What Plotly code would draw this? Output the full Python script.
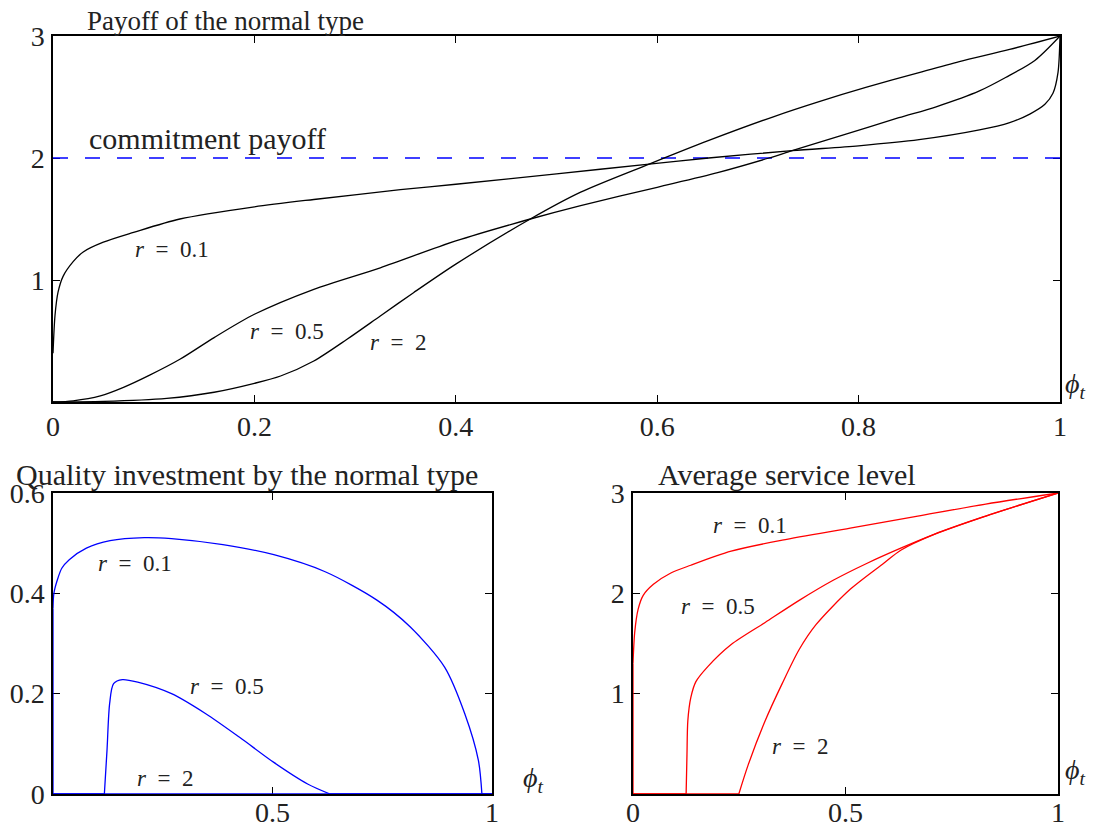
import plotly.graph_objects as go

# ---------------- data ----------------
# Top panel: payoff of the normal type
pay_x_01 = [0, 0.002, 0.005, 0.01, 0.02, 0.03, 0.05, 0.08, 0.126, 0.2, 0.259, 0.345, 0.4, 0.5, 0.592, 0.651, 0.734, 0.8, 0.86, 0.92, 0.95, 0.97, 0.985, 0.993, 0.998, 1.0]
pay_y_01 = [0.4, 0.71, 0.9, 1.03, 1.15, 1.23, 1.31, 1.39, 1.50, 1.60, 1.66, 1.74, 1.785, 1.87, 1.95, 2.0, 2.06, 2.10, 2.15, 2.23, 2.29, 2.36, 2.44, 2.53, 2.7, 3.0]
pay_x_05 = [0, 0.02, 0.047, 0.07, 0.096, 0.126, 0.16, 0.2, 0.259, 0.325, 0.4, 0.474, 0.524, 0.6, 0.66, 0.711, 0.734, 0.785, 0.84, 0.877, 0.92, 0.946, 0.975, 1.0]
pay_y_05 = [0, 0.01, 0.05, 0.12, 0.22, 0.35, 0.528, 0.719, 0.924, 1.10, 1.32, 1.50, 1.61, 1.76, 1.88, 2.0, 2.06, 2.19, 2.33, 2.42, 2.55, 2.66, 2.80, 3.0]
pay_x_2 = [0, 0.05, 0.113, 0.16, 0.2, 0.226, 0.259, 0.292, 0.325, 0.358, 0.4, 0.474, 0.524, 0.592, 0.65, 0.716, 0.76, 0.808, 0.86, 0.9, 0.95, 1.0]
pay_y_2 = [0, 0.005, 0.03, 0.08, 0.153, 0.213, 0.336, 0.514, 0.705, 0.896, 1.13, 1.50, 1.72, 1.95, 2.14, 2.34, 2.46, 2.58, 2.70, 2.79, 2.89, 3.0]
commit_x = [0, 1]
commit_y = [2, 2]

# Bottom-left: quality investment by the normal type
inv_x_01 = [0, 0, 0.002, 0.01, 0.02, 0.037, 0.076, 0.13, 0.208, 0.27, 0.387, 0.503, 0.62, 0.737, 0.814, 0.892, 0.938, 0.969, 0.977, 1.0]
inv_y_01 = [0, 0.37, 0.40, 0.427, 0.45, 0.467, 0.49, 0.505, 0.511, 0.509, 0.497, 0.477, 0.443, 0.387, 0.333, 0.253, 0.16, 0.067, 0, 0]
inv_x_05 = [0, 0.117, 0.123, 0.129, 0.138, 0.158, 0.193, 0.27, 0.348, 0.425, 0.503, 0.58, 0.631, 1.0]
inv_y_05 = [0, 0, 0.087, 0.18, 0.22, 0.228, 0.223, 0.2, 0.16, 0.113, 0.063, 0.02, 0, 0]
inv_x_2 = [0, 1]
inv_y_2 = [0, 0]

# Bottom-right: average service level
srv_x_01 = [0, 0, 0.004, 0.012, 0.024, 0.048, 0.088, 0.136, 0.231, 0.351, 0.511, 0.67, 0.83, 1.0]
srv_y_01 = [0, 1.3, 1.61, 1.84, 1.98, 2.09, 2.2, 2.28, 2.42, 2.53, 2.65, 2.77, 2.89, 3.0]
srv_x_05 = [0, 0.125, 0.127, 0.129, 0.136, 0.148, 0.176, 0.231, 0.311, 0.391, 0.471, 0.551, 0.63, 0.71, 0.83, 1.0]
srv_y_05 = [0, 0, 0.39, 0.73, 0.96, 1.12, 1.27, 1.49, 1.71, 1.93, 2.13, 2.30, 2.45, 2.59, 2.77, 3.0]
srv_x_2 = [0, 0.249, 0.271, 0.311, 0.351, 0.391, 0.431, 0.511, 0.59, 0.63, 0.71, 0.83, 1.0]
srv_y_2 = [0, 0, 0.29, 0.73, 1.1, 1.44, 1.69, 2.04, 2.3, 2.43, 2.59, 2.77, 3.0]

top_xticks = [0, 0.2, 0.4, 0.6, 0.8, 1]
top_xticklabels = ["0", "0.2", "0.4", "0.6", "0.8", "1"]
top_yticks = [1, 2, 3]
top_yticklabels = ["1", "2", "3"]
bl_xticks = [0.5, 1]
bl_xticklabels = ["0.5", "1"]
bl_yticks = [0, 0.2, 0.4, 0.6]
bl_yticklabels = ["0", "0.2", "0.4", "0.6"]
br_xticks = [0, 0.5, 1]
br_xticklabels = ["0", "0.5", "1"]
br_yticks = [1, 2, 3]
br_yticklabels = ["1", "2", "3"]

# ---------------- figure ----------------
FONT = "Liberation Serif"
TXT = "#222222"
PAGE_OFF = 8          # default body margin of the html page
W, H = 1107 - 2 * PAGE_OFF, 832 - 2 * PAGE_OFF
fig = go.Figure()


def PX(x):
    return (x - PAGE_OFF) / W


def PY(y):
    return 1 - (y - PAGE_OFF) / H


def seg(x, y, color, xa, ya, shape, dash=None, width=1.3):
    fig.add_trace(go.Scatter(x=x, y=y, mode="lines", xaxis=xa, yaxis=ya,
                             line=dict(color=color, width=width, dash=dash,
                                       shape=shape, smoothing=0.8 if shape == "spline" else None),
                             showlegend=False, hoverinfo="skip", cliponaxis=False))


def curve(x, y, color, xa, ya, head=0, tail=None):
    """Draw a curve: straight head/tail pieces (jumps, flat parts) and a smooth body."""
    n = len(x)
    t = n - 1 if tail is None else tail
    if head > 0:
        seg(x[:head + 1], y[:head + 1], color, xa, ya, "linear")
    seg(x[head:t + 1], y[head:t + 1], color, xa, ya, "spline")
    if t < n - 1:
        seg(x[t:], y[t:], color, xa, ya, "linear")


seg(commit_x, commit_y, "#0000ff", "x", "y", "linear", dash="15px,17px", width=1.5)
curve(pay_x_01, pay_y_01, "black", "x", "y")
curve(pay_x_05, pay_y_05, "black", "x", "y")
curve(pay_x_2, pay_y_2, "black", "x", "y")

curve(inv_x_01, inv_y_01, "#0000ff", "x2", "y2", head=1, tail=18)
curve(inv_x_05, inv_y_05, "#0000ff", "x2", "y2", head=1, tail=12)
seg(inv_x_2, inv_y_2, "#0000ff", "x2", "y2", "linear", width=1.6)

curve(srv_x_01, srv_y_01, "#ff0000", "x3", "y3", head=1)
curve(srv_x_05, srv_y_05, "#ff0000", "x3", "y3", head=1)
curve(srv_x_2, srv_y_2, "#ff0000", "x3", "y3", head=1)


def ax(**kw):
    d = dict(showline=True, linecolor="black", linewidth=1.5, mirror="allticks",
             ticks="inside", ticklen=7, tickcolor="black", tickwidth=1,
             showgrid=False, zeroline=False, automargin=False, layer="below traces",
             tickfont=dict(family=FONT, size=28, color=TXT))
    d.update(kw)
    return d


fig.update_layout(
    width=W, height=H, margin=dict(l=0, r=0, t=0, b=0, autoexpand=False),
    paper_bgcolor="white", plot_bgcolor="white",
    xaxis=ax(domain=[PX(53), PX(1060)], range=[0, 1], tickvals=top_xticks, ticktext=top_xticklabels,
             anchor="y", ticklabelstandoff=-1),
    yaxis=ax(domain=[PY(402), PY(36)], range=[0, 3], tickvals=top_yticks, ticktext=top_yticklabels,
             anchor="x", ticklabelstandoff=1),
    xaxis2=ax(domain=[PX(53), PX(492)], range=[0, 1], tickvals=bl_xticks, ticktext=bl_xticklabels,
              anchor="y2", ticklabelstandoff=-7),
    yaxis2=ax(domain=[PY(794), PY(493)], range=[0, 0.6], tickvals=bl_yticks, ticktext=bl_yticklabels,
              anchor="x2", ticklabelstandoff=1),
    xaxis3=ax(domain=[PX(633), PX(1058)], range=[0, 1], tickvals=br_xticks, ticktext=br_xticklabels,
              anchor="y3", ticklabelstandoff=-7),
    yaxis3=ax(domain=[PY(794), PY(493)], range=[0, 3], tickvals=br_yticks, ticktext=br_yticklabels,
              anchor="x3", ticklabelstandoff=1),
)


def ann(text, x, y, xref, yref, size=23, xanchor="center", yanchor="middle"):
    fig.add_annotation(text=text, x=x, y=y, xref=xref, yref=yref, showarrow=False,
                       xanchor=xanchor, yanchor=yanchor,
                       font=dict(family=FONT, size=size, color=TXT))


SP = "\u2002"


def rlab(v):
    return "<i>r</i>" + SP + "=" + SP + v


# titles
ann("Payoff of the normal type", PX(85), PY(21), "paper", "paper", size=27, xanchor="left")
ann("Quality investment by the normal type", PX(14), PY(474), "paper", "paper", size=30, xanchor="left")
ann("Average service level", PX(656), PY(474), "paper", "paper", size=30, xanchor="left")

# curve labels top
ann(rlab("0.1"), 0.118, 1.25, "x", "y")
ann(rlab("0.5"), 0.232, 0.58, "x", "y")
ann(rlab("2"), 0.343, 0.49, "x", "y")
ann("commitment payoff", 0.034, 2.16, "x", "y", size=30, xanchor="left")

# bottom-left
ann(rlab("0.1"), 0.187, 0.46, "x2", "y2")
ann(rlab("0.5"), 0.396, 0.215, "x2", "y2")
ann(rlab("2"), 0.255, 0.03, "x2", "y2")

# bottom-right
ann(rlab("0.1"), 0.275, 2.68, "x3", "y3")
ann(rlab("0.5"), 0.2, 1.87, "x3", "y3")
ann(rlab("2"), 0.393, 0.47, "x3", "y3")

# phi_t axis labels
phi = "<i>ϕ</i><sub><i>t</i></sub>"
ann(phi, PX(1063), PY(385), "paper", "paper", size=28, xanchor="left")
ann(phi, PX(533), PY(779), "paper", "paper", size=28)
ann(phi, PX(1063), PY(771), "paper", "paper", size=28, xanchor="left")

fig.write_html("out.html")
